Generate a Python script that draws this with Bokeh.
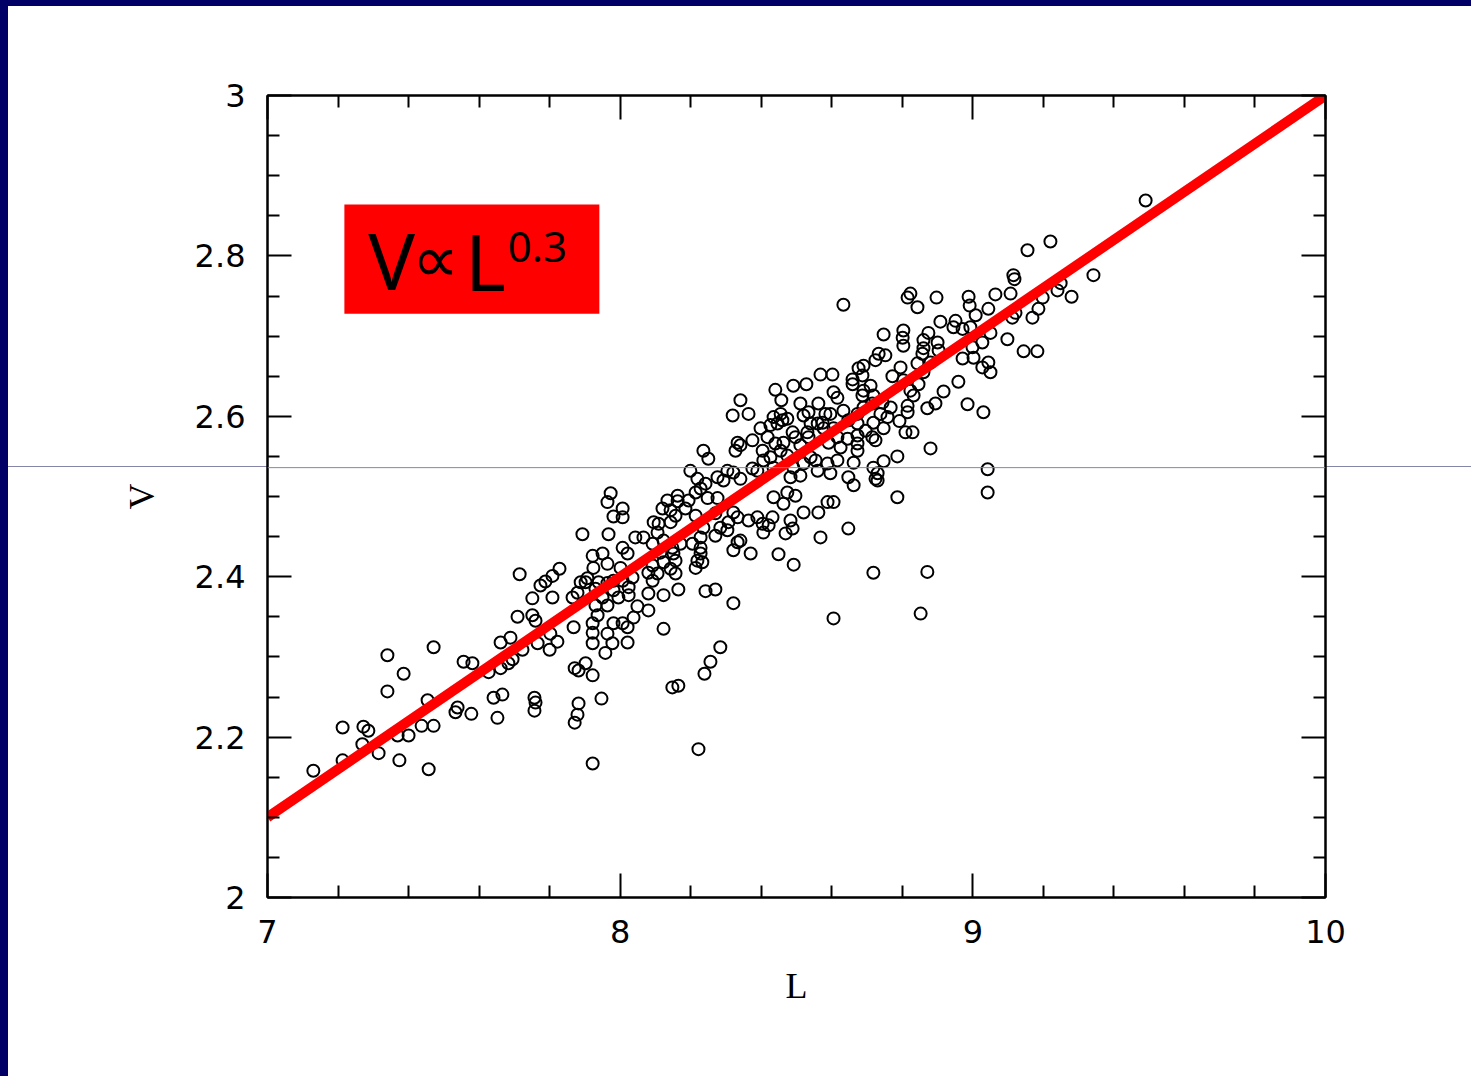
from bokeh.plotting import figure
from bokeh.models import FixedTicker, LinearAxis, Range1d, BoxAnnotation, Label, Span, CustomJSTickFormatter
from bokeh.embed import file_html
from bokeh.resources import INLINE

# ---- data ----
L_vals = [
    7.130, 7.213, 7.213, 7.272, 7.286, 7.269, 7.315, 7.340, 7.340, 7.386, 7.374, 7.457, 7.471, 7.454,
    7.437, 7.471, 7.400, 7.369, 7.556, 7.581, 7.533, 7.539, 7.578, 7.627, 7.661, 7.683, 7.695, 7.641,
    7.666, 7.652, 7.661, 7.689, 7.709, 7.723, 7.751, 7.760, 7.766, 7.802, 7.822, 7.800, 7.757, 7.760,
    7.757, 7.868, 7.871, 7.882, 7.902, 7.882, 7.879, 7.871, 7.922, 7.922, 7.922, 7.922, 7.922,
    7.715, 7.828, 7.808, 7.788, 7.774, 7.751, 7.808, 7.865, 7.879, 7.902,
    8.276, 8.304, 8.321, 8.341, 8.293, 8.219, 8.228, 8.242, 8.214, 7.973, 7.964, 8.007, 7.981, 8.007,
    7.893, 7.967, 8.163, 8.134, 8.163, 8.194, 8.120, 8.143, 8.185, 8.157, 8.214, 8.248, 8.276, 8.270,
    8.321, 8.333, 8.364, 8.389, 8.307, 8.284, 8.304, 8.270, 8.236, 8.228, 8.205, 8.228, 8.228, 8.219,
    8.233, 8.214, 8.333, 8.341, 8.321, 8.370, 8.095, 8.109, 8.106, 8.143, 8.043, 8.066, 8.092, 8.123,
    8.148, 8.171, 8.114, 8.151, 8.157, 8.123, 8.143, 8.092, 8.080, 8.106, 8.157, 8.007, 8.021, 7.922,
    7.950, 7.924, 7.964, 8.001, 7.907,
    8.404, 8.432, 8.421, 8.406, 8.435, 8.474, 8.463, 8.483, 8.469, 8.489, 8.497, 8.520, 8.562, 8.588,
    8.605, 8.568, 8.647, 8.449, 8.492, 8.718, 8.662, 8.730, 7.888, 7.930, 7.939, 7.964, 7.981, 8.007,
    8.024, 8.035, 8.024, 7.995, 7.981, 7.950, 7.964, 7.930, 7.936, 7.958, 7.964, 7.978, 7.981, 8.007,
    8.021, 8.021, 8.038, 8.049, 8.080, 8.080, 8.123, 8.123, 8.165, 8.242, 8.270, 8.321, 8.284, 8.256,
    8.239, 8.148, 8.165, 7.947, 8.222, 8.092, 8.786, 8.871, 8.852, 8.605, 9.042,
    8.341, 8.319, 8.364, 8.440, 8.457, 8.491, 8.528, 8.568, 8.602, 8.605, 8.616, 8.659, 8.659, 8.687,
    8.690, 8.710, 8.687, 8.718, 8.772, 8.803, 8.846, 8.823, 8.832, 8.860, 8.917, 8.959, 8.985, 9.030,
    8.894, 8.871, 8.815, 8.815, 8.792, 8.809, 8.829, 8.880, 8.786, 8.747, 8.718, 8.730, 8.724, 8.662,
    8.647, 9.042,
    8.511, 8.534, 8.562, 8.582, 8.596, 8.520, 8.540, 8.560, 8.574, 8.531, 8.534, 8.577, 8.605, 8.633,
    8.647, 8.673, 8.673, 8.690, 8.715, 8.744, 8.767, 8.758, 8.738, 8.718, 8.696, 8.715, 8.724, 8.747,
    8.673, 8.645, 8.616, 8.591, 8.625, 8.673, 8.673, 8.616, 8.588, 8.596, 8.560, 8.554, 8.540, 8.520,
    8.511, 8.483, 8.491, 8.474, 8.455, 8.440, 8.418, 8.398, 8.404, 8.426, 8.435, 8.406, 8.389, 8.375,
    8.375, 8.426, 8.446, 8.460, 8.474, 8.435, 8.455, 8.489, 8.497, 8.511, 8.463, 8.333, 8.327, 8.341,
    8.236, 8.250, 8.199, 8.633, 8.676,
    9.490, 9.220, 9.155, 9.342, 9.115, 9.118, 9.249, 9.240, 9.280, 9.198, 9.064, 9.107, 9.186, 9.169,
    9.121, 9.112, 9.098, 9.144, 9.183, 8.988, 8.991, 9.008, 9.044, 8.897, 8.823, 8.815, 8.843, 8.908,
    8.951, 8.945, 8.971, 8.993, 8.747, 8.803, 8.801, 8.803, 8.874, 8.860, 8.900, 8.903, 8.860, 8.857,
    8.880, 8.733, 8.752, 8.724, 8.690, 8.843, 8.795, 8.971, 9.002, 9.027, 9.044, 9.050, 9.027, 8.999,
    9.050,
]
V_vals = [
    2.158, 2.212, 2.171, 2.213, 2.208, 2.191, 2.180, 2.302, 2.257, 2.279, 2.171, 2.160, 2.312, 2.246,
    2.214, 2.214, 2.202, 2.202, 2.294, 2.292, 2.231, 2.237, 2.229, 2.281, 2.286, 2.292, 2.297, 2.249,
    2.253, 2.224, 2.318, 2.324, 2.350, 2.309, 2.352, 2.345, 2.317, 2.329, 2.319, 2.309, 2.249, 2.243,
    2.233, 2.337, 2.286, 2.283, 2.292, 2.242, 2.228, 2.218, 2.342, 2.330, 2.317, 2.277, 2.167,
    2.403, 2.410, 2.401, 2.394, 2.389, 2.373, 2.374, 2.374, 2.380, 2.393,
    2.524, 2.532, 2.530, 2.522, 2.520, 2.522, 2.510, 2.516, 2.505, 2.504, 2.493, 2.485, 2.475, 2.474,
    2.453, 2.453, 2.501, 2.495, 2.494, 2.495, 2.485, 2.483, 2.485, 2.476, 2.476, 2.498, 2.498, 2.479,
    2.480, 2.474, 2.470, 2.474, 2.468, 2.461, 2.458, 2.451, 2.461, 2.449, 2.441, 2.436, 2.429, 2.420,
    2.418, 2.411, 2.443, 2.445, 2.433, 2.429, 2.468, 2.466, 2.455, 2.468, 2.449, 2.449, 2.441, 2.445,
    2.436, 2.441, 2.430, 2.429, 2.420, 2.418, 2.410, 2.414, 2.405, 2.404, 2.404, 2.436, 2.429, 2.426,
    2.429, 2.411, 2.416, 2.411, 2.398,
    2.466, 2.474, 2.464, 2.455, 2.499, 2.505, 2.491, 2.470, 2.454, 2.460, 2.501, 2.480, 2.480, 2.493,
    2.493, 2.449, 2.460, 2.428, 2.415, 2.405, 2.514, 2.520, 2.393, 2.385, 2.393, 2.392, 2.395, 2.395,
    2.387, 2.399, 2.377, 2.374, 2.383, 2.374, 2.364, 2.364, 2.352, 2.305, 2.329, 2.317, 2.342, 2.342,
    2.337, 2.318, 2.349, 2.363, 2.379, 2.358, 2.377, 2.335, 2.384, 2.382, 2.384, 2.367, 2.312, 2.294,
    2.279, 2.262, 2.264, 2.248, 2.185, 2.395, 2.499, 2.406, 2.354, 2.348, 2.505,
    2.620, 2.601, 2.603, 2.633, 2.620, 2.638, 2.640, 2.652, 2.652, 2.630, 2.623, 2.646, 2.640, 2.651,
    2.632, 2.638, 2.626, 2.626, 2.650, 2.645, 2.640, 2.632, 2.626, 2.655, 2.631, 2.643, 2.615, 2.605,
    2.616, 2.610, 2.613, 2.605, 2.594, 2.580, 2.580, 2.560, 2.550, 2.544, 2.536, 2.529, 2.522, 2.542,
    2.524, 2.534,
    2.616, 2.605, 2.616, 2.603, 2.603, 2.601, 2.591, 2.591, 2.592, 2.580, 2.574, 2.585, 2.585, 2.607,
    2.595, 2.603, 2.591, 2.611, 2.616, 2.617, 2.611, 2.599, 2.603, 2.592, 2.582, 2.574, 2.570, 2.585,
    2.576, 2.572, 2.574, 2.567, 2.561, 2.566, 2.557, 2.545, 2.541, 2.529, 2.532, 2.545, 2.549, 2.541,
    2.526, 2.524, 2.536, 2.551, 2.557, 2.566, 2.574, 2.585, 2.557, 2.549, 2.536, 2.545, 2.532, 2.535,
    2.570, 2.589, 2.591, 2.595, 2.597, 2.599, 2.603, 2.580, 2.574, 2.564, 2.567, 2.567, 2.557, 2.564,
    2.557, 2.547, 2.532, 2.739, 2.660,
    2.869, 2.818, 2.807, 2.776, 2.776, 2.771, 2.766, 2.757, 2.749, 2.748, 2.752, 2.753, 2.734, 2.723,
    2.729, 2.723, 2.696, 2.681, 2.681, 2.749, 2.738, 2.726, 2.734, 2.748, 2.753, 2.748, 2.736, 2.718,
    2.719, 2.711, 2.709, 2.711, 2.702, 2.707, 2.698, 2.688, 2.704, 2.695, 2.692, 2.682, 2.685, 2.678,
    2.667, 2.678, 2.676, 2.670, 2.663, 2.666, 2.661, 2.672, 2.673, 2.661, 2.667, 2.704, 2.692, 2.686,
    2.655,
]
fit_L = [7.0, 10.0]
fit_V = [2.1, 3.0]

x_major = [7, 8, 9, 10]
x_minor = [7.2, 7.4, 7.6, 7.8, 8.2, 8.4, 8.6, 8.8, 9.2, 9.4, 9.6, 9.8]
y_major = [2.0, 2.2, 2.4, 2.6, 2.8, 3.0]
y_major_labels = ["2", "2.2", "2.4", "2.6", "2.8", "3"]
y_minor = [2.05, 2.1, 2.15, 2.25, 2.3, 2.35, 2.45, 2.5, 2.55, 2.65, 2.7, 2.75, 2.85, 2.9, 2.95]
x_label = "L"
y_label = "V"
grey_rule_V = 2.536

W, H = 1471, 1076
p = figure(width=W, height=H, output_backend="svg", toolbar_location=None,
           x_range=Range1d(7, 10), y_range=Range1d(2, 3),
           min_border_left=267, min_border_right=146, min_border_top=95, min_border_bottom=179,
           x_axis_label=x_label, y_axis_label=y_label)
p.background_fill_color = "white"
p.border_fill_color = None
p.outline_line_color = "black"
p.outline_line_width = 2
p.xgrid.visible = False
p.ygrid.visible = False
# slide decorations outside the frame (navy edges and the thin grey rule across the slide)
p.styles = {
    "background-color": "white",
    "background-image": ("linear-gradient(#000066, #000066), linear-gradient(#000066, #000066), "
                         "linear-gradient(#8585a8, #8585a8)"),
    "background-size": "100% 6px, 8px 100%, 100% 1px",
    "background-position": "0 0, 0 0, 0 466px",
    "background-repeat": "no-repeat",
}

xt = FixedTicker(ticks=x_major, minor_ticks=x_minor)
yt = FixedTicker(ticks=y_major, minor_ticks=y_minor)
bottom_ax = p.below[0]
left_ax = p.left[0]
bottom_ax.ticker = xt
left_ax.ticker = yt
left_ax.major_label_overrides = {v: s for v, s in zip(y_major, y_major_labels)}

top_ax = LinearAxis(ticker=xt, formatter=CustomJSTickFormatter(code="return ''"))
right_ax = LinearAxis(ticker=yt, formatter=CustomJSTickFormatter(code="return ''"))
p.add_layout(top_ax, "above")
p.add_layout(right_ax, "right")

for ax in [bottom_ax, left_ax, top_ax, right_ax]:
    ax.axis_line_color = "black"
    ax.axis_line_width = 2
    ax.major_tick_in = 24
    ax.major_tick_out = 0
    ax.minor_tick_in = 12
    ax.minor_tick_out = 0
    ax.major_tick_line_color = "black"
    ax.minor_tick_line_color = "black"
    ax.major_tick_line_width = 2
    ax.minor_tick_line_width = 2
    ax.major_label_text_font = "DejaVu Sans"
    ax.major_label_text_font_size = "32px"
    ax.major_label_text_color = "black"
    ax.axis_label_text_font = "Liberation Serif"
    ax.axis_label_text_font_size = "36px"
    ax.axis_label_text_font_style = "normal"
    ax.axis_label_text_color = "black"

bottom_ax.major_label_standoff = 22
left_ax.major_label_standoff = 22
bottom_ax.axis_label_standoff = 20
left_ax.axis_label_standoff = 30

p.add_layout(Span(location=grey_rule_V, dimension="width", line_color="#8585a8", line_width=1))

p.scatter(L_vals, V_vals, marker="circle", size=12, fill_color=None,
          line_color="black", line_width=2)
p.line(fit_L, fit_V, line_color="#ff0000", line_width=10)

# label box
p.add_layout(BoxAnnotation(left=7.218, right=7.941, top=2.864, bottom=2.728,
                           fill_color="#ff0000", fill_alpha=1, line_color=None))
p.add_layout(Label(x=7.286, y=2.7955, text="V", text_font="Noto Sans",
                   text_font_size="78px", text_color="black", text_baseline="alphabetic"))
p.add_layout(Label(x=7.410, y=2.795, text="\u221d", text_font="DejaVu Sans",
                   text_font_size="66px", text_color="black", text_baseline="alphabetic"))
p.add_layout(Label(x=7.560, y=2.794, text="L", text_font="Noto Sans",
                   text_font_size="78px", text_color="black", text_baseline="alphabetic"))
p.add_layout(Label(x=7.681, y=2.8107, text="0.3", text_font="Noto Sans",
                   text_font_size="42px", text_color="black", text_baseline="alphabetic"))

open("out.html", "w").write(file_html(p, INLINE))
